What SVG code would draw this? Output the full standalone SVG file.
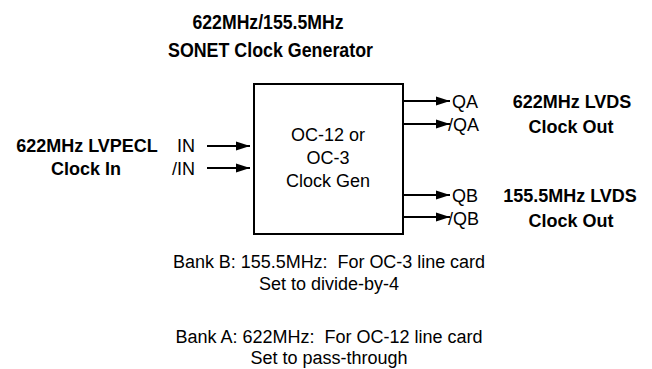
<svg xmlns="http://www.w3.org/2000/svg" width="652" height="369" viewBox="0 0 652 369">
<style>
text{font-family:"Liberation Sans",Arial,Helvetica,sans-serif;fill:#000;font-size:18px;white-space:pre}
.b{font-weight:bold}
.t{font-size:21px}
.m{text-anchor:middle}
.e{text-anchor:end}
.ln{stroke:#000;stroke-width:2;fill:none}
</style>
<defs>
<marker id="ah" markerUnits="userSpaceOnUse" markerWidth="14" markerHeight="10" refX="14" refY="5" orient="auto">
<path d="M0,0.5 L14,5 L0,9.5 Z" fill="#000"/>
</marker>
</defs>
<rect width="652" height="369" fill="#fff"/>
<g id="title">
<text class="b t m" x="268" y="29" textLength="151" lengthAdjust="spacingAndGlyphs">622MHz/155.5MHz</text>
<text class="b t m" x="270.5" y="57" textLength="205" lengthAdjust="spacingAndGlyphs">SONET Clock Generator</text>
</g>
<g id="clockgen">
<rect x="254" y="84" width="149" height="150" class="ln"/>
<text class="m" x="328" y="141">OC-12 or</text>
<text class="m" x="328" y="164">OC-3</text>
<text class="m" x="328" y="187">Clock Gen</text>
</g>
<g id="input">
<text class="b m" x="87" y="152">622MHz LVPECL</text>
<text class="b m" x="86" y="175">Clock In</text>
<text class="e" x="195" y="152">IN</text>
<text class="e" x="195" y="175">/IN</text>
</g>
<g id="outA">
<text x="452" y="108">QA</text>
<text x="448" y="131">/QA</text>
<text class="b m" x="572" y="108">622MHz LVDS</text>
<text class="b m" x="571" y="133">Clock Out</text>
</g>
<g id="outB">
<text x="452" y="202">QB</text>
<text x="448" y="225">/QB</text>
<text class="b m" x="570" y="202">155.5MHz LVDS</text>
<text class="b m" x="571" y="227">Clock Out</text>
</g>
<g id="notes">
<text class="m" x="329" y="268" textLength="312">Bank B: 155.5MHz:  For OC-3 line card</text>
<text class="m" x="329" y="290">Set to divide-by-4</text>
<text class="m" x="329" y="343">Bank A: 622MHz:  For OC-12 line card</text>
<text class="m" x="329" y="364">Set to pass-through</text>
</g>
<g id="connectors">
<line class="ln" x1="207" y1="146" x2="250" y2="146" marker-end="url(#ah)"/>
<line class="ln" x1="207" y1="168" x2="250" y2="168" marker-end="url(#ah)"/>
<line class="ln" x1="404" y1="101" x2="450" y2="101" marker-end="url(#ah)"/>
<line class="ln" x1="404" y1="124" x2="450" y2="124" marker-end="url(#ah)"/>
<line class="ln" x1="404" y1="195" x2="450" y2="195" marker-end="url(#ah)"/>
<line class="ln" x1="404" y1="217" x2="450" y2="217" marker-end="url(#ah)"/>
</g>
</svg>
